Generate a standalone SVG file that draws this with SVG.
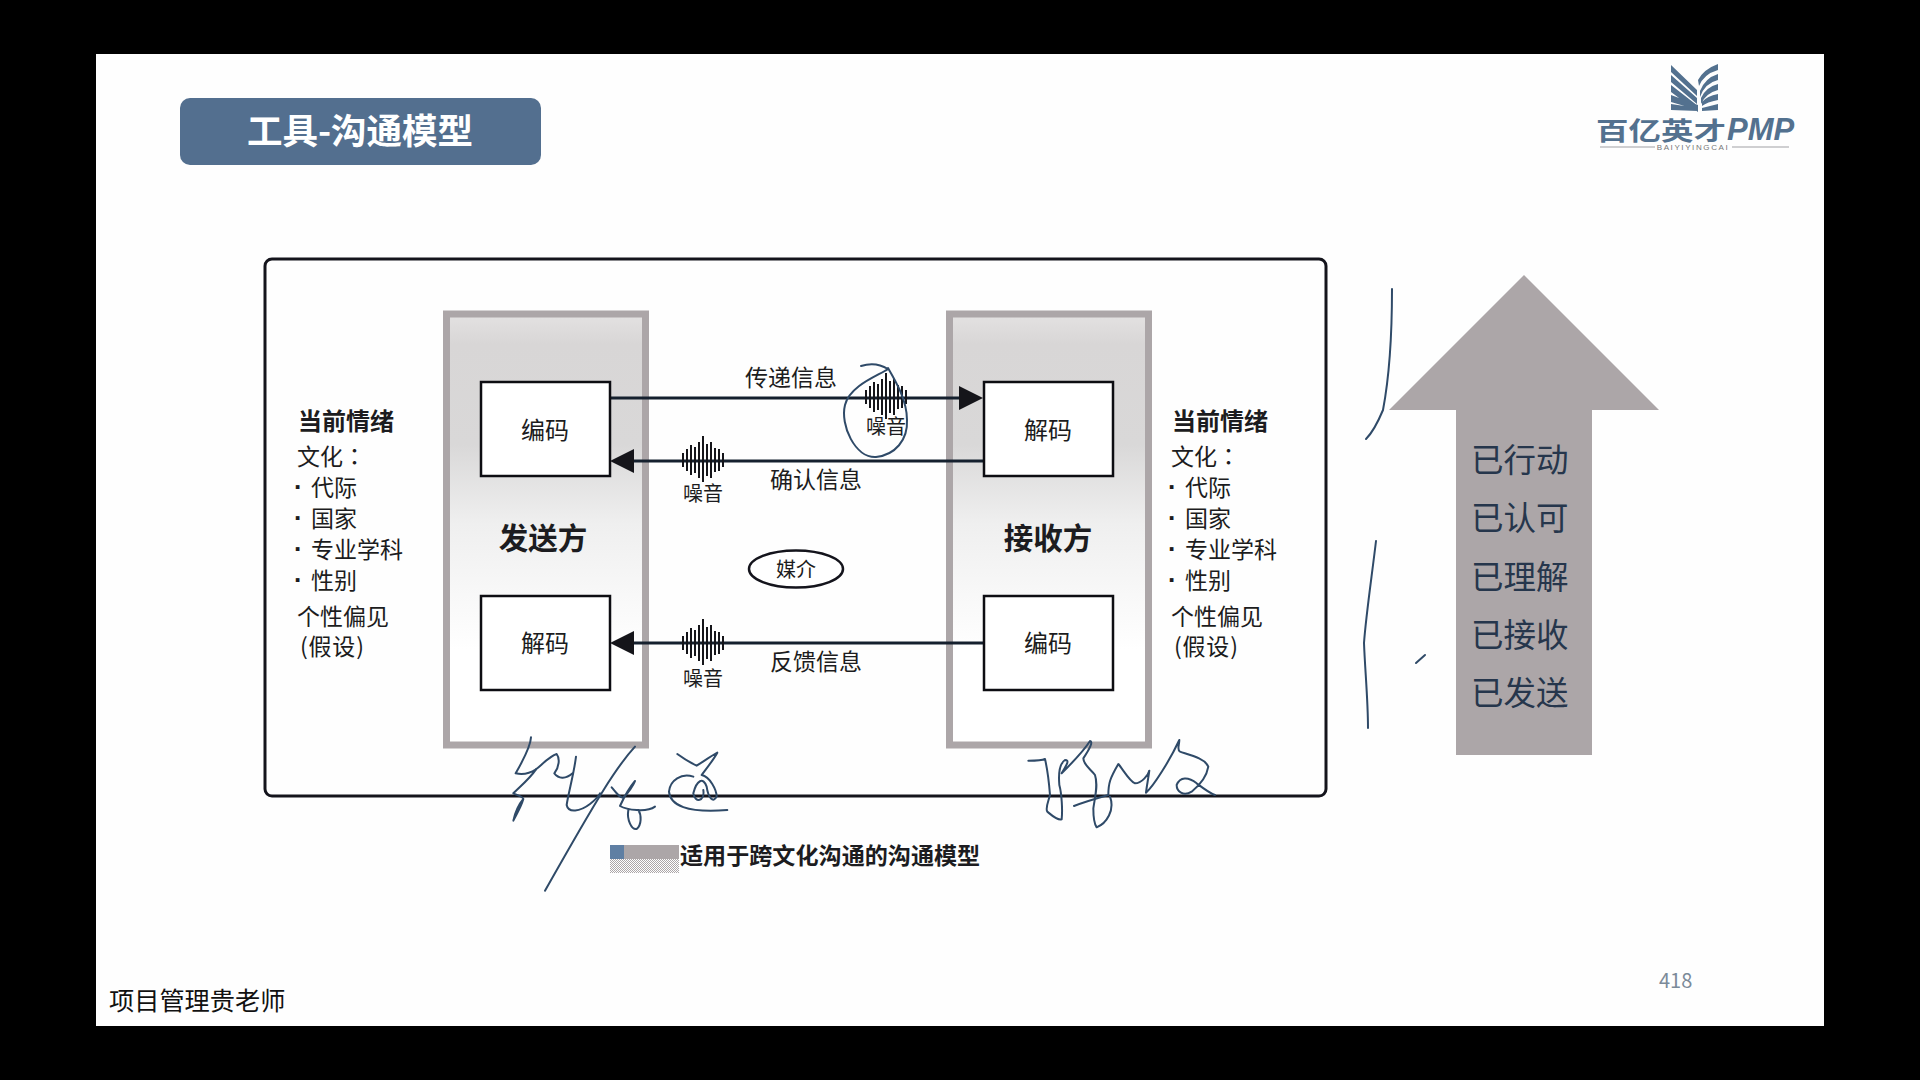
<svg xmlns="http://www.w3.org/2000/svg" width="1920" height="1080" viewBox="0 0 1920 1080">
<style>
text{font-family:"Noto Sans CJK SC","Noto Sans",sans-serif;fill:#1c1c20}
.c{text-anchor:middle}
.b{font-weight:700}
.box{fill:#fff;stroke:#0d0d12;stroke-width:2.5}
.panel{fill:url(#pg);stroke:#aca6a8;stroke-width:7}
.line{fill:none;stroke:#15202e;stroke-width:3}
.hand{fill:none;stroke:#2f4a68;stroke-width:2;vector-effect:non-scaling-stroke;stroke-linejoin:round;stroke-linecap:round}
.t24{font-size:24px}.t22{font-size:23px}.t19{font-size:20px}
.side{font-size:23px}
.hd{font-size:24px;font-weight:700}
.dot{font-size:26px;font-weight:700;font-family:"Liberation Sans",sans-serif}
.st{font-size:32.500px;fill:#26364c}
.lg{fill:#53718f}
</style>
<defs>
<linearGradient id="pg" gradientUnits="userSpaceOnUse" x1="0" y1="318" x2="0" y2="650">
<stop offset="0" stop-color="#e2e0e0"/><stop offset=".08" stop-color="#d8d6d6"/><stop offset=".38" stop-color="#d9d8d8"/><stop offset=".62" stop-color="#efefef"/><stop offset="1" stop-color="#fff"/>
</linearGradient>
<pattern id="dith" width="2" height="2" patternUnits="userSpaceOnUse"><rect width="2" height="2" fill="#fff"/><rect width="1" height="1" fill="#aca6a8"/><rect x="1" y="1" width="1" height="1" fill="#aca6a8"/></pattern>
<path id="wave" fill="none" stroke="#15151a" stroke-width="2" d="M-20,-7V7M-16,-11V11M-12,-15V15M-8,-13V13M-4,-18V18M0,-24V22M4,-16V16M8,-18V18M12,-12V12M16,-11V11M20,-7V7"/>
<path id="ah" fill="#15151a" d="M0,0L-24,-12V12Z"/>
</defs>
<rect width="1920" height="1080" fill="#000"/>
<rect x="96" y="54" width="1728" height="972" fill="#fefefe"/>

<g id="title"><rect x="180" y="98" width="361" height="67" rx="10" fill="#536f8f"/><text class="c b" x="360" y="144" font-size="35.500" style="fill:#fff">工具-沟通模型</text></g>

<g id="logo">
<path class="lg" d="M1671,65l0,7l26,24l0,-6zM1671,75l0,7l26,22l0,-6zM1671,85l0,7l27,20l0,-6zM1671,95l0,7l27,8l0,-5zM1671,104l0,6l27,1l0,-3z"/>
<path class="lg" d="M1718,64l0,6q-14,4 -19,16l-1,-6q6,-11 20,-16zM1718,74l0,6q-13,3 -18,17l0,-6q5,-13 18,-17zM1718,84l0,6q-12,3 -17,14l0,-6q5,-11 17,-14zM1718,94l0,6q-11,2 -16,6l0,-4q5,-6 16,-8zM1718,104l0,6l-16,1l0,-3z"/>
<text class="b" transform="translate(1596,140) scale(1,.78)" font-size="32.500" style="fill:#53718f">百亿英才</text>
<text class="b" x="1727" y="140" font-size="31" font-style="italic" style="fill:#53718f;font-family:'Liberation Sans',sans-serif">PMP</text>
<path d="M1600,147H1655M1732,147H1789" stroke="#a0a0a4" stroke-width="1"/>
<text class="c" x="1693" y="150" font-size="8" letter-spacing="1.600" style="fill:#777;font-family:'Liberation Sans',sans-serif">BAIYIYINGCAI</text>
</g>

<rect id="frame" x="265" y="259" width="1061" height="537" rx="7" fill="none" stroke="#14141c" stroke-width="3"/>

<g id="sender"><rect class="panel" x="446.500" y="314" width="199" height="431"/><text class="c b" x="543" y="549" font-size="29.500">发送方</text></g>
<g id="receiver"><rect class="panel" x="949.500" y="314" width="199" height="431"/><text class="c b" x="1048" y="549" font-size="29.500">接收方</text></g>

<g id="connectors">
<path class="line" d="M610,398H962"/><use href="#ah" transform="translate(983,398)"/>
<path class="line" d="M984,461H630"/><use href="#ah" transform="translate(610,461) rotate(180)"/>
<path class="line" d="M984,643H630"/><use href="#ah" transform="translate(610,643) rotate(180)"/>
</g>

<g id="encode-s"><rect class="box" x="481" y="382" width="129" height="94"/><text class="c t24" x="545" y="439">编码</text></g>
<g id="decode-s"><rect class="box" x="481" y="596" width="129" height="94"/><text class="c t24" x="545" y="652">解码</text></g>
<g id="decode-r"><rect class="box" x="984" y="382" width="129" height="94"/><text class="c t24" x="1048" y="439">解码</text></g>
<g id="encode-r"><rect class="box" x="984" y="596" width="129" height="94"/><text class="c t24" x="1048" y="652">编码</text></g>

<g id="noise1"><use href="#wave" transform="translate(886,397)"/><text class="c t19" x="886" y="434">噪音</text></g>
<g id="noise2"><use href="#wave" transform="translate(703,460)"/><text class="c t19" x="703" y="501">噪音</text></g>
<g id="noise3"><use href="#wave" transform="translate(703,643)"/><text class="c t19" x="703" y="686">噪音</text></g>

<g id="labels">
<text class="c t22" x="791" y="386">传递信息</text>
<text class="c t22" x="816" y="488">确认信息</text>
<text class="c t22" x="816" y="670">反馈信息</text>
</g>

<g id="media"><ellipse cx="796" cy="569" rx="47" ry="18.500" fill="#fff" stroke="#14141c" stroke-width="2.500"/><text class="c" x="796" y="577" font-size="20">媒介</text></g>

<g id="left-notes">
<text class="hd" x="298" y="430">当前情绪</text>
<text class="side" x="297" y="465">文化<tspan style="font-family:'Noto Sans CJK TC',sans-serif">：</tspan></text>
<text class="dot" x="294" y="496">·</text><text class="side" x="311" y="496">代际</text>
<text class="dot" x="294" y="527">·</text><text class="side" x="311" y="527">国家</text>
<text class="dot" x="294" y="558">·</text><text class="side" x="311" y="558">专业学科</text>
<text class="dot" x="294" y="589">·</text><text class="side" x="311" y="589">性别</text>
<text class="side" x="297" y="625">个性偏见</text>
<text class="side" x="300" y="655" letter-spacing=".8">(假设)</text>
</g>
<g id="right-notes">
<text class="hd" x="1172" y="430">当前情绪</text>
<text class="side" x="1171" y="465">文化<tspan style="font-family:'Noto Sans CJK TC',sans-serif">：</tspan></text>
<text class="dot" x="1168" y="496">·</text><text class="side" x="1185" y="496">代际</text>
<text class="dot" x="1168" y="527">·</text><text class="side" x="1185" y="527">国家</text>
<text class="dot" x="1168" y="558">·</text><text class="side" x="1185" y="558">专业学科</text>
<text class="dot" x="1168" y="589">·</text><text class="side" x="1185" y="589">性别</text>
<text class="side" x="1171" y="625">个性偏见</text>
<text class="side" x="1174" y="655" letter-spacing=".8">(假设)</text>
</g>

<g id="stage-arrow">
<path fill="#aca6a8" d="M1524,275L1659,410H1592V755H1456V410H1389Z"/>
<text class="st" x="1471" y="472">已行动</text>
<text class="st" x="1471" y="530">已认可</text>
<text class="st" x="1471" y="589">已理解</text>
<text class="st" x="1471" y="647">已接收</text>
<text class="st" x="1471" y="705">已发送</text>
</g>

<g id="caption">
<rect x="610" y="845" width="69" height="14" fill="#aca6a8"/><rect x="610" y="845" width="14" height="14" fill="#5f7fa3"/>
<rect x="610" y="859" width="69" height="14" fill="url(#dith)"/>
<text class="b" x="680" y="864" font-size="23.100">适用于跨文化沟通的沟通模型</text>
</g>

<text id="page" x="1659" y="988" font-size="20" style="fill:#7b8a99">418</text>
<text id="author" x="109" y="1010" font-size="25.200" style="fill:#111">项目管理贵老师</text>

<g id="ink">
<path class="hand" d="M861,366C870,363 880,364 888,369C880,375 850,385 845,405C840,425 855,458 876,457C895,455 908,440 907,420C907,400 895,380 888,368"/>
<path class="hand" d="M1392,289C1392,330 1390,373 1383,410C1378,422 1372,433 1366,439"/>
<path class="hand" d="M1376,541C1372,575 1366,615 1364,643C1365,670 1368,700 1368,728"/>
<path class="hand" d="M1416,663L1425,655"/>
<g transform="translate(500,730) scale(.3333)">
<path class="hand" d="M93,22C92,50 70,90 47,130C70,135 90,130 108,118C90,145 60,170 40,190C55,197 70,200 70,207C62,235 45,260 40,272C45,250 55,225 70,207"/>
<path class="hand" d="M108,118C130,100 150,78 170,72C180,85 178,110 163,130C175,145 195,150 218,130"/>
<path class="hand" d="M228,80C222,130 205,190 200,225C205,250 240,245 270,222C285,210 295,200 300,190"/>
<path class="hand" d="M405,50C350,110 300,190 135,482"/>
<path class="hand" d="M335,172C350,190 360,205 370,202C385,190 400,165 405,153C395,165 375,195 360,228C380,240 440,248 465,230M385,240C380,270 395,300 410,297C425,285 425,255 415,240"/>
<path class="hand" d="M532,72C550,85 575,100 590,107C610,95 630,80 652,68C640,90 620,115 605,135M580,140C545,128 510,150 507,185C510,225 560,250 682,240M605,135C630,140 650,180 650,200C640,220 625,205 620,170C610,140 590,150 580,190C585,220 615,215 610,180"/>
</g>
<g transform="translate(1020,730) scale(.3333)">
<path class="hand" d="M25,92C45,92 65,92 75,87C85,130 88,170 90,195C85,215 75,235 82,245C95,255 110,272 125,268C128,240 125,190 118,165C115,130 120,100 135,90C150,90 140,105 125,130C160,95 190,65 210,33C220,35 210,55 190,85C190,105 215,120 225,135C235,165 225,200 220,235C220,260 225,285 230,292C260,280 285,240 270,200"/>
<path class="hand" d="M162,228C195,215 230,205 265,195C265,160 270,145 295,102C310,120 330,155 345,160C365,160 385,135 388,122C385,145 380,170 378,188C400,170 450,90 478,30C478,45 470,60 480,65C510,75 555,85 565,110C560,140 540,165 515,185C490,200 470,185 470,165C480,140 505,140 530,160C550,175 570,190 585,195"/>
</g>
</g>
</svg>
